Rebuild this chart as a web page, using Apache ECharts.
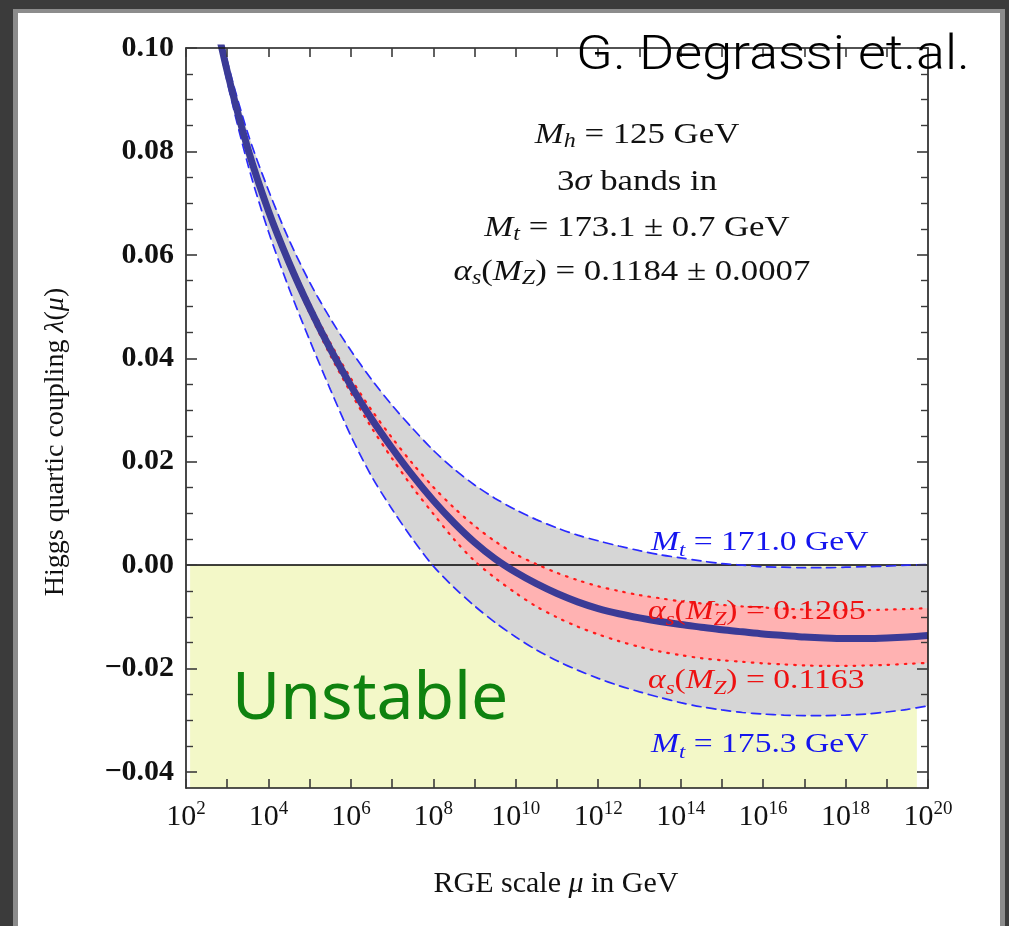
<!DOCTYPE html>
<html>
<head>
<meta charset="utf-8">
<script src="https://cdn.jsdelivr.net/npm/echarts@6/dist/echarts.min.js"></script>
<style>
html,body{margin:0;padding:0;background:#3b3b3b;}
#chart{width:1009px;height:926px;}
</style>
</head>
<body>
<div id="chart"></div>
<script>
// ---- data (log10 of the RGE scale mu in GeV, and lambda(mu)) ----
const logMu = [2.5, 3.0, 3.5, 4.0, 4.5, 5.0, 5.5, 6.0, 6.5, 7.0, 7.5, 8.0, 8.5, 9.0, 9.5, 10.0, 10.5, 11.0, 11.5, 12.0, 12.5, 13.0, 13.5, 14.0, 14.5, 15.0, 15.5, 16.0, 16.5, 17.0, 17.5, 18.0, 18.5, 19.0, 19.5, 20.0];
const lambdaCentral = [0.1135, 0.0955, 0.0805, 0.0685, 0.0585, 0.0497, 0.0418, 0.0347, 0.0283, 0.0226, 0.0173, 0.0125, 0.0082, 0.0044, 0.0012, -0.0014, -0.0036, -0.0055, -0.0071, -0.0084, -0.0094, -0.0102, -0.0109, -0.0115, -0.0120, -0.0125, -0.0129, -0.0133, -0.0136, -0.0139, -0.0141, -0.0142, -0.0142, -0.0141, -0.0139, -0.0136];
const lambdaMt1710 = [0.1150, 0.0975, 0.0835, 0.0725, 0.0629, 0.0547, 0.0477, 0.0415, 0.0359, 0.0309, 0.0264, 0.0222, 0.0186, 0.0155, 0.0129, 0.0107, 0.0088, 0.0072, 0.0058, 0.0047, 0.0037, 0.0028, 0.0020, 0.0014, 0.0008, 0.0003, 0.0000, -0.0003, -0.0004, -0.0005, -0.0005, -0.0004, -0.0003, -0.0002, 0.0000, 0.0001];
const lambdaMt1753 = [0.1125, 0.0935, 0.0775, 0.0645, 0.0535, 0.0435, 0.0340, 0.0250, 0.0172, 0.0108, 0.0050, -0.0002, -0.0043, -0.0079, -0.0111, -0.0139, -0.0164, -0.0185, -0.0203, -0.0219, -0.0233, -0.0245, -0.0256, -0.0266, -0.0274, -0.0280, -0.0285, -0.0288, -0.0290, -0.0291, -0.0291, -0.0290, -0.0288, -0.0284, -0.0279, -0.0272];
const lambdaAs1205 = [0.1145, 0.0960, 0.0812, 0.0693, 0.0594, 0.0507, 0.0430, 0.0361, 0.0300, 0.0246, 0.0196, 0.0151, 0.0111, 0.0076, 0.0046, 0.0021, 0.0002, -0.0015, -0.0029, -0.0041, -0.0050, -0.0058, -0.0064, -0.0070, -0.0074, -0.0077, -0.0080, -0.0082, -0.0084, -0.0086, -0.0087, -0.0087, -0.0087, -0.0086, -0.0085, -0.0083];
const lambdaAs1163 = [0.1135, 0.0950, 0.0798, 0.0677, 0.0576, 0.0487, 0.0406, 0.0333, 0.0266, 0.0206, 0.0150, 0.0099, 0.0050, 0.0008, -0.0025, -0.0054, -0.0080, -0.0101, -0.0119, -0.0134, -0.0147, -0.0158, -0.0167, -0.0174, -0.0180, -0.0184, -0.0187, -0.0190, -0.0192, -0.0194, -0.0195, -0.0195, -0.0194, -0.0193, -0.0191, -0.0189];
const xRange = [2, 20];
const yRange = [-0.0431, 0.10];
const yMajorTicks = [-0.04, -0.02, 0, 0.02, 0.04, 0.06, 0.08, 0.10];
const yMinorTicks = [-0.035, -0.03, -0.025, -0.015, -0.01, -0.005, 0.005, 0.01, 0.015, 0.025, 0.03, 0.035, 0.045, 0.05, 0.055, 0.065, 0.07, 0.075, 0.085, 0.09, 0.095];
const unstableX = [2.1, 19.73];

// ---- styling ----
const SERIF = "'Liberation Serif','DejaVu Serif',serif";
const SANS = "'Noto Sans','Liberation Sans',sans-serif";
const AXIS_COLOR = '#1a1a1a';
const TICK_COLOR = '#3a3a3a';

const pairs = arr => logMu.map((x, i) => [x, arr[i]]);

function band(upper, lower, color, z) {
  return {
    type: 'custom', z: z, clip: true, silent: true,
    data: logMu.map((x, i) => [x, upper[i], lower[i]]),
    encode: {x: 0, y: [1, 2]},
    renderItem: function (params, api) {
      if (params.dataIndex !== 0) return null;
      const pts = [];
      for (let i = 0; i < logMu.length; i++) pts.push(api.coord([logMu[i], upper[i]]));
      for (let i = logMu.length - 1; i >= 0; i--) pts.push(api.coord([logMu[i], lower[i]]));
      const cs = params.coordSys;
      return {
        type: 'group',
        children: [{type: 'polygon', shape: {points: pts}, style: {fill: color}}],
        clipPath: {type: 'rect', shape: {x: cs.x, y: cs.y, width: cs.width, height: cs.height}}
      };
    }
  };
}

function curve(arr, color, width, type, z) {
  return {
    type: 'line', data: pairs(arr), showSymbol: false, symbol: 'none', smooth: 0.3,
    z: z, silent: true, clip: true,
    lineStyle: {color: color, width: width, type: type, cap: type === 'solid' ? 'butt' : 'round'}
  };
}

const baseX = {
  type: 'value', min: xRange[0], max: xRange[1], interval: 1, z: 10,
  splitLine: {show: false},
  axisLine: {onZero: false, lineStyle: {color: AXIS_COLOR, width: 1.6}},
  axisTick: {inside: true, length: 9, lineStyle: {color: TICK_COLOR, width: 1.6}}
};

const baseY = {
  type: 'value', min: yRange[0], max: yRange[1], z: 10,
  splitLine: {show: false}
};

const subStyle = {fontSize: 19, lineHeight: 16, verticalAlign: 'bottom', fontStyle: 'italic', fontFamily: SERIF};

function annot(x, y, text, color, align, size, extra) {
  return Object.assign({
    type: 'text', x: x, y: y, z: 100, scaleX: 1.2, scaleY: 1,
    style: {
      text: text, fill: color, font: size + 'px ' + SERIF, lineHeight: 34,
      textAlign: align, textVerticalAlign: 'middle',
      rich: {
        i: {fontStyle: 'italic', fontSize: size, fontFamily: SERIF, lineHeight: 34},
        sub: Object.assign({}, subStyle, {fontSize: Math.round(size * 0.68)})
      }
    }
  }, extra || {});
}

const option = {
  backgroundColor: '#3b3b3b',
  animation: false,
  grid: {left: 186, right: 81, top: 48, bottom: 138},
  xAxis: [
    Object.assign({}, baseX, {
      position: 'bottom',
      axisLabel: {
        margin: 12, color: '#111',
        formatter: v => (Math.round(v) % 2 === 0 ? '{b|10}{s|' + Math.round(v) + '}' : ''),
        rich: {
          b: {fontSize: 30, fontFamily: SERIF, color: '#111', lineHeight: 34},
          s: {fontSize: 19, fontFamily: SERIF, color: '#111', lineHeight: 18, verticalAlign: 'top'}
        }
      }
    }),
    Object.assign({}, baseX, {position: 'top', axisLabel: {show: false}})
  ],
  yAxis: [
    Object.assign({}, baseY, {
      position: 'left',
      axisLine: {onZero: false, lineStyle: {color: AXIS_COLOR, width: 1.6}},
      axisTick: {inside: true, length: 11, customValues: yMajorTicks, lineStyle: {color: TICK_COLOR, width: 1.6}},
      axisLabel: {
        customValues: yMajorTicks, margin: 12, color: '#111',
        fontFamily: SERIF, fontSize: 30, fontWeight: 'bold',
        formatter: v => (v < -1e-9 ? '\u2212' + Math.abs(v).toFixed(2) : Math.abs(v).toFixed(2))
      }
    }),
    Object.assign({}, baseY, {
      position: 'right',
      axisLine: {onZero: false, lineStyle: {color: AXIS_COLOR, width: 1.6}},
      axisTick: {inside: true, length: 11, customValues: yMajorTicks, lineStyle: {color: TICK_COLOR, width: 1.6}},
      axisLabel: {show: false}
    }),
    Object.assign({}, baseY, {
      position: 'left',
      axisLine: {show: false},
      axisTick: {inside: true, length: 7, customValues: yMinorTicks, lineStyle: {color: TICK_COLOR, width: 1.4}},
      axisLabel: {show: false}
    }),
    Object.assign({}, baseY, {
      position: 'right',
      axisLine: {show: false},
      axisTick: {inside: true, length: 7, customValues: yMinorTicks, lineStyle: {color: TICK_COLOR, width: 1.4}},
      axisLabel: {show: false}
    })
  ],
  series: [
    {
      type: 'line', data: [], z: 1, silent: true,
      markArea: {
        silent: true,
        itemStyle: {color: '#f3f8c8'},
        data: [[{coord: [unstableX[0], 0]}, {coord: [unstableX[1], yRange[0]]}]]
      }
    },
    band(lambdaMt1710, lambdaMt1753, '#d6d6d6', 2),
    band(lambdaAs1205, lambdaAs1163, '#ffb2b2', 3),
    {
      type: 'line', data: [], z: 4, silent: true,
      markLine: {
        silent: true, symbol: 'none', label: {show: false},
        lineStyle: {color: '#000', width: 1.6, type: 'solid'},
        data: [{yAxis: 0}]
      }
    },
    curve(lambdaMt1710, '#2a2aff', 1.7, [9, 6], 5),
    curve(lambdaMt1753, '#2a2aff', 1.7, [9, 6], 5),
    curve(lambdaAs1205, '#ff1a1a', 2.2, [1.5, 7], 6),
    curve(lambdaAs1163, '#ff1a1a', 2.2, [1.5, 7], 6),
    curve(lambdaCentral, '#3b3b96', 7, 'solid', 7)
  ],
  graphic: [
    {type: 'rect', z: -10, silent: true, shape: {x: 13, y: 9, width: 992, height: 917}, style: {fill: '#8c8c8c'}},
    {type: 'rect', z: -9, silent: true, shape: {x: 18, y: 13, width: 982, height: 913}, style: {fill: '#ffffff'}},
    // axis titles
    {type: 'text', z: 100, x: 556, y: 884, style: {text: 'RGE scale {i|\u03bc} in GeV', font: '30px ' + SERIF, fill: '#111', textAlign: 'center', textVerticalAlign: 'middle', rich: {i: {fontStyle: 'italic', fontSize: 30, fontFamily: SERIF}}}},
    {type: 'text', z: 100, x: 56, y: 442, rotation: Math.PI / 2, style: {text: 'Higgs quartic coupling {i|\u03bb}({i|\u03bc})', font: '28px ' + SERIF, fill: '#111', textAlign: 'center', textVerticalAlign: 'middle', rich: {i: {fontStyle: 'italic', fontSize: 28, fontFamily: SERIF}}}},
    // info block
    annot(637, 135, '{i|M}{sub|h} = 125 GeV', '#111', 'center', 29),
    annot(637, 182, '3{i|\u03c3} bands in', '#111', 'center', 29),
    annot(637, 228, '{i|M}{sub|t} = 173.1 \u00b1 0.7 GeV', '#111', 'center', 29),
    annot(632, 272, '{i|\u03b1}{sub|s}({i|M}{sub|Z}) = 0.1184 \u00b1 0.0007', '#111', 'center', 29),
    // curve labels
    annot(651, 543, '{i|M}{sub|t} = 171.0 GeV', '#1515ee', 'left', 28),
    annot(648, 612, '{i|\u03b1}{sub|s}({i|M}{sub|Z}) = 0.1205', '#ee1111', 'left', 28),
    annot(648, 681, '{i|\u03b1}{sub|s}({i|M}{sub|Z}) = 0.1163', '#ee1111', 'left', 28),
    annot(651, 745, '{i|M}{sub|t} = 175.3 GeV', '#1515ee', 'left', 28),
    // overlays
    {type: 'text', z: 100, x: 232, y: 700, style: {text: 'Unstable', font: '66px ' + SANS, fill: '#0f820f', textAlign: 'left', textVerticalAlign: 'middle'}},
    {type: 'text', z: 100, x: 970, y: 57, scaleX: 1.1, style: {text: 'G. Degrassi et.al.', font: "300 49px Roboto,'Noto Sans',sans-serif", fill: '#000', textAlign: 'right', textVerticalAlign: 'middle'}}
  ]
};

const chart = echarts.init(document.getElementById('chart'), null, {renderer: 'canvas'});
chart.setOption(option);
</script>
</body>
</html>
